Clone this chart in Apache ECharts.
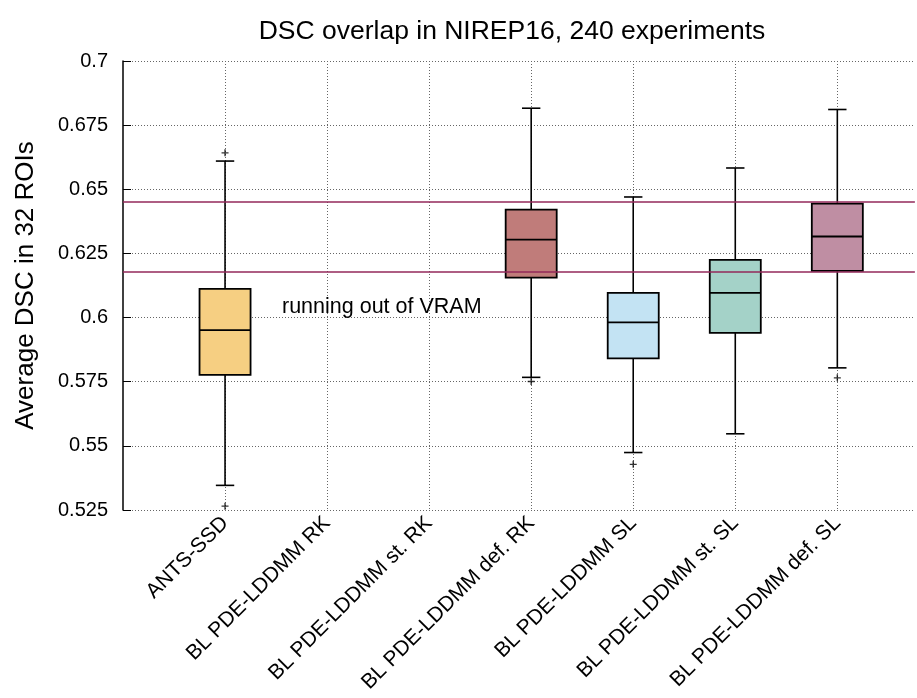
<!DOCTYPE html>
<html>
<head>
<meta charset="utf-8">
<script src="https://cdn.jsdelivr.net/npm/echarts@6/dist/echarts.min.js"></script>
<style>html,body{margin:0;padding:0;background:#fff}#c{width:917px;height:698px}</style>
</head>
<body>
<div id="c"></div>
<script>
const categories = ['ANTS-SSD','BL PDE-LDDMM RK','BL PDE-LDDMM st. RK','BL PDE-LDDMM def. RK','BL PDE-LDDMM SL','BL PDE-LDDMM st. SL','BL PDE-LDDMM def. SL'];
const whiskerLow  = [0.5346, null, null, 0.5767, 0.5474, 0.5547, 0.5804];
const q1          = [0.5777, null, null, 0.6156, 0.5841, 0.5940, 0.6182];
const median      = [0.5951, null, null, 0.6304, 0.5981, 0.6096, 0.6316];
const q3          = [0.6112, null, null, 0.6421, 0.6096, 0.6225, 0.6444];
const whiskerHigh = [0.6610, null, null, 0.6816, 0.6470, 0.6583, 0.6811];
const outlierCategory = [1, 1, 4, 5, 7];
const outlierValue    = [0.6642, 0.5265, 0.5751, 0.5428, 0.5765];
const referenceLines  = [0.645, 0.618];
const yTicks = [0.525, 0.55, 0.575, 0.6, 0.625, 0.65, 0.675, 0.7];
const boxColors = ['#f6cf82', null, null, '#c07c7a', '#c3e3f3', '#a4d2c8', '#bf8ea3'];
const titleText = 'DSC overlap in NIREP16, 240 experiments';
const yName = 'Average DSC in 32 ROIs';
const noteText = 'running out of VRAM';

const FONT = "'Liberation Sans', Arial, Helvetica, sans-serif";

const boxData = [];
categories.forEach((c, i) => {
  if (q1[i] == null) return;
  boxData.push({ value: [i + 1, whiskerLow[i], q1[i], median[i], q3[i], whiskerHigh[i]] });
});
const outlierData = outlierCategory.map((c, i) => [c, outlierValue[i]]);

const chart = echarts.init(document.getElementById('c'), null, { renderer: 'canvas' });
const gridDot = { color: '#666', width: 1, type: [1, 2] };

chart.setOption({
  backgroundColor: '#fff',
  animation: false,
  grid: { left: 123, right: 0, top: 61, bottom: 188, containLabel: false },
  graphic: [
    { type: 'text', x: 512, y: 32, style: { text: titleText, font: '26.5px ' + FONT, fill: '#000', textAlign: 'center', textVerticalAlign: 'middle' } },
    { type: 'text', x: 282, y: 307, style: { text: noteText, font: '21.5px ' + FONT, fill: '#000', textAlign: 'left', textVerticalAlign: 'middle' }, z: 10 }
  ],
  xAxis: {
    type: 'value', min: 0, max: 7.76, interval: 1,
    axisLine: { show: false }, axisTick: { show: false },
    splitLine: { show: true, lineStyle: gridDot, showMinLine: false, showMaxLine: false },
    axisLabel: {
      rotate: 45, margin: 10, color: '#000', fontSize: 21, fontFamily: FONT,
      showMinLabel: true, showMaxLabel: true,
      formatter: v => { const r = Math.round(v); return (Math.abs(v - r) < 1e-6 && r >= 1 && r <= categories.length) ? categories[r - 1] : ''; }
    }
  },
  yAxis: {
    type: 'value', min: yTicks[0], max: yTicks[yTicks.length - 1], interval: 0.025,
    name: yName, nameLocation: 'middle', nameGap: 84, nameRotate: 90,
    nameTextStyle: { fontSize: 26, fontFamily: FONT, color: '#000' },
    axisLine: { show: true, lineStyle: { color: '#000', width: 1.5 } },
    axisTick: { show: true, inside: true, length: 8, lineStyle: { color: '#000', width: 1 } },
    splitLine: { show: true, lineStyle: gridDot },
    axisLabel: { color: '#000', fontSize: 20, fontFamily: FONT, margin: 15, formatter: v => String(parseFloat(v.toFixed(3))) }
  },
  series: [
    {
      type: 'scatter', z: 2,
      data: outlierData,
      symbol: 'path://M-0.6,-3H0.6V-0.6H3V0.6H0.6V3H-0.6V0.6H-3V-0.6H-0.6Z',
      symbolSize: 7,
      itemStyle: { color: '#000' },
      markLine: {
        silent: true, symbol: ['none', 'none'], animation: false, precision: 4,
        label: { show: false },
        lineStyle: { color: '#93285a', width: 1.5, type: 'solid' },
        data: referenceLines.map(v => ({ yAxis: v }))
      }
    },
    {
      type: 'custom', z: 3,
      data: boxData,
      encode: { x: 0, y: [1, 2, 3, 4, 5] },
      renderItem: (params, api) => {
        const x = api.value(0);
        const pLo = api.coord([x, api.value(1)]);
        const pQ1 = api.coord([x, api.value(2)]);
        const pMed = api.coord([x, api.value(3)]);
        const pQ3 = api.coord([x, api.value(4)]);
        const pHi = api.coord([x, api.value(5)]);
        const halfW = api.size([0.5, 0])[0] / 2;
        const capW = api.size([0.18, 0])[0] / 2;
        const cx = pMed[0];
        const ls = { stroke: '#000', lineWidth: 1.6 };
        const fill = boxColors[Math.round(x) - 1];
        return {
          type: 'group',
          children: [
            { type: 'line', shape: { x1: cx, y1: pLo[1], x2: cx, y2: pQ1[1] }, style: ls },
            { type: 'line', shape: { x1: cx, y1: pQ3[1], x2: cx, y2: pHi[1] }, style: ls },
            { type: 'line', shape: { x1: cx - capW, y1: pLo[1], x2: cx + capW, y2: pLo[1] }, style: ls },
            { type: 'line', shape: { x1: cx - capW, y1: pHi[1], x2: cx + capW, y2: pHi[1] }, style: ls },
            { type: 'rect', shape: { x: cx - halfW, y: pQ3[1], width: halfW * 2, height: pQ1[1] - pQ3[1] }, style: { fill: fill, stroke: '#000', lineWidth: 1.8 } },
            { type: 'line', shape: { x1: cx - halfW, y1: pMed[1], x2: cx + halfW, y2: pMed[1] }, style: { stroke: '#000', lineWidth: 1.8 } }
          ]
        };
      }
    }
  ]
});
</script>
</body>
</html>
